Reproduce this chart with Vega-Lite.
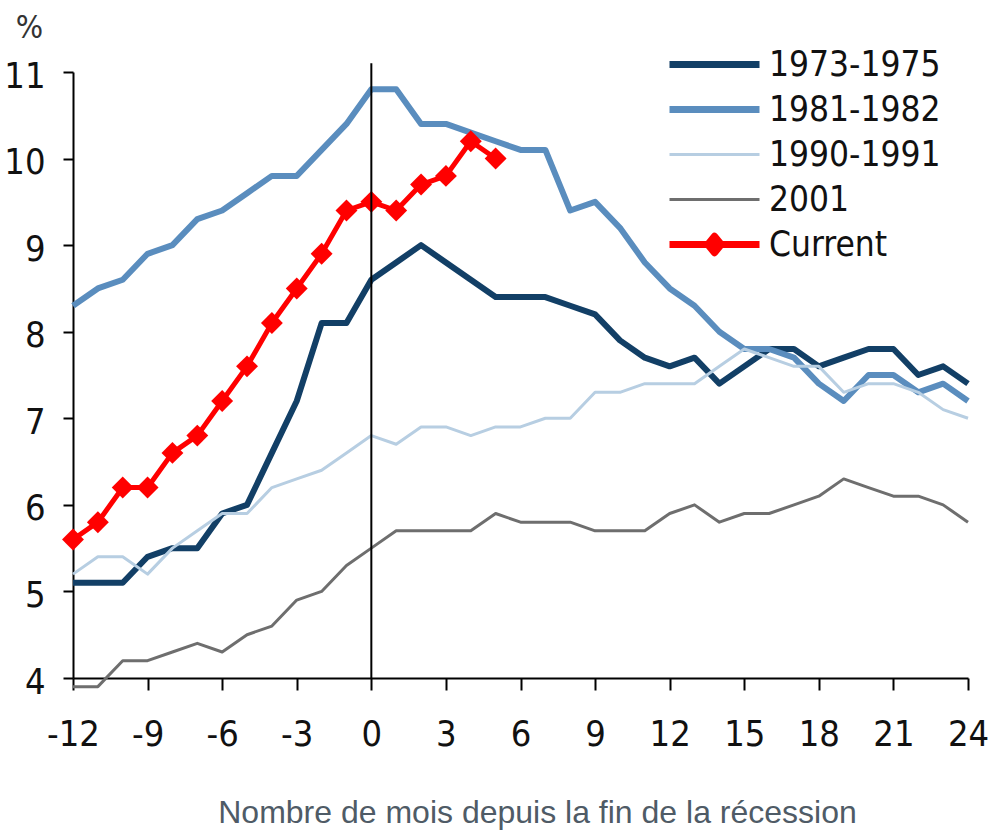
{
  "$schema": "https://vega.github.io/schema/vega-lite/v6.json",
  "width": 895,
  "height": 606,
  "autosize": "none",
  "padding": {"left": 73, "top": 72, "right": 23, "bottom": 152},
  "background": "white",
  "config": {"view": {"stroke": null}, "axis": {"grid": false}},
  "datasets": {
    "u": [
      {"m":-12,"s":"1973-1975","v":5.1},{"m":-11,"s":"1973-1975","v":5.1},{"m":-10,"s":"1973-1975","v":5.1},{"m":-9,"s":"1973-1975","v":5.4},{"m":-8,"s":"1973-1975","v":5.5},{"m":-7,"s":"1973-1975","v":5.5},{"m":-6,"s":"1973-1975","v":5.9},{"m":-5,"s":"1973-1975","v":6.0},{"m":-4,"s":"1973-1975","v":6.6},{"m":-3,"s":"1973-1975","v":7.2},{"m":-2,"s":"1973-1975","v":8.1},{"m":-1,"s":"1973-1975","v":8.1},{"m":0,"s":"1973-1975","v":8.6},{"m":1,"s":"1973-1975","v":8.8},{"m":2,"s":"1973-1975","v":9.0},{"m":3,"s":"1973-1975","v":8.8},{"m":4,"s":"1973-1975","v":8.6},{"m":5,"s":"1973-1975","v":8.4},{"m":6,"s":"1973-1975","v":8.4},{"m":7,"s":"1973-1975","v":8.4},{"m":8,"s":"1973-1975","v":8.3},{"m":9,"s":"1973-1975","v":8.2},{"m":10,"s":"1973-1975","v":7.9},{"m":11,"s":"1973-1975","v":7.7},{"m":12,"s":"1973-1975","v":7.6},{"m":13,"s":"1973-1975","v":7.7},{"m":14,"s":"1973-1975","v":7.4},{"m":15,"s":"1973-1975","v":7.6},{"m":16,"s":"1973-1975","v":7.8},{"m":17,"s":"1973-1975","v":7.8},{"m":18,"s":"1973-1975","v":7.6},{"m":19,"s":"1973-1975","v":7.7},{"m":20,"s":"1973-1975","v":7.8},{"m":21,"s":"1973-1975","v":7.8},{"m":22,"s":"1973-1975","v":7.5},{"m":23,"s":"1973-1975","v":7.6},{"m":24,"s":"1973-1975","v":7.4},
      {"m":-12,"s":"1981-1982","v":8.3},{"m":-11,"s":"1981-1982","v":8.5},{"m":-10,"s":"1981-1982","v":8.6},{"m":-9,"s":"1981-1982","v":8.9},{"m":-8,"s":"1981-1982","v":9.0},{"m":-7,"s":"1981-1982","v":9.3},{"m":-6,"s":"1981-1982","v":9.4},{"m":-5,"s":"1981-1982","v":9.6},{"m":-4,"s":"1981-1982","v":9.8},{"m":-3,"s":"1981-1982","v":9.8},{"m":-2,"s":"1981-1982","v":10.1},{"m":-1,"s":"1981-1982","v":10.4},{"m":0,"s":"1981-1982","v":10.8},{"m":1,"s":"1981-1982","v":10.8},{"m":2,"s":"1981-1982","v":10.4},{"m":3,"s":"1981-1982","v":10.4},{"m":4,"s":"1981-1982","v":10.3},{"m":5,"s":"1981-1982","v":10.2},{"m":6,"s":"1981-1982","v":10.1},{"m":7,"s":"1981-1982","v":10.1},{"m":8,"s":"1981-1982","v":9.4},{"m":9,"s":"1981-1982","v":9.5},{"m":10,"s":"1981-1982","v":9.2},{"m":11,"s":"1981-1982","v":8.8},{"m":12,"s":"1981-1982","v":8.5},{"m":13,"s":"1981-1982","v":8.3},{"m":14,"s":"1981-1982","v":8.0},{"m":15,"s":"1981-1982","v":7.8},{"m":16,"s":"1981-1982","v":7.8},{"m":17,"s":"1981-1982","v":7.7},{"m":18,"s":"1981-1982","v":7.4},{"m":19,"s":"1981-1982","v":7.2},{"m":20,"s":"1981-1982","v":7.5},{"m":21,"s":"1981-1982","v":7.5},{"m":22,"s":"1981-1982","v":7.3},{"m":23,"s":"1981-1982","v":7.4},{"m":24,"s":"1981-1982","v":7.2},
      {"m":-12,"s":"1990-1991","v":5.2},{"m":-11,"s":"1990-1991","v":5.4},{"m":-10,"s":"1990-1991","v":5.4},{"m":-9,"s":"1990-1991","v":5.2},{"m":-8,"s":"1990-1991","v":5.5},{"m":-7,"s":"1990-1991","v":5.7},{"m":-6,"s":"1990-1991","v":5.9},{"m":-5,"s":"1990-1991","v":5.9},{"m":-4,"s":"1990-1991","v":6.2},{"m":-3,"s":"1990-1991","v":6.3},{"m":-2,"s":"1990-1991","v":6.4},{"m":-1,"s":"1990-1991","v":6.6},{"m":0,"s":"1990-1991","v":6.8},{"m":1,"s":"1990-1991","v":6.7},{"m":2,"s":"1990-1991","v":6.9},{"m":3,"s":"1990-1991","v":6.9},{"m":4,"s":"1990-1991","v":6.8},{"m":5,"s":"1990-1991","v":6.9},{"m":6,"s":"1990-1991","v":6.9},{"m":7,"s":"1990-1991","v":7.0},{"m":8,"s":"1990-1991","v":7.0},{"m":9,"s":"1990-1991","v":7.3},{"m":10,"s":"1990-1991","v":7.3},{"m":11,"s":"1990-1991","v":7.4},{"m":12,"s":"1990-1991","v":7.4},{"m":13,"s":"1990-1991","v":7.4},{"m":14,"s":"1990-1991","v":7.6},{"m":15,"s":"1990-1991","v":7.8},{"m":16,"s":"1990-1991","v":7.7},{"m":17,"s":"1990-1991","v":7.6},{"m":18,"s":"1990-1991","v":7.6},{"m":19,"s":"1990-1991","v":7.3},{"m":20,"s":"1990-1991","v":7.4},{"m":21,"s":"1990-1991","v":7.4},{"m":22,"s":"1990-1991","v":7.3},{"m":23,"s":"1990-1991","v":7.1},{"m":24,"s":"1990-1991","v":7.0},
      {"m":-12,"s":"2001","v":3.9},{"m":-11,"s":"2001","v":3.9},{"m":-10,"s":"2001","v":4.2},{"m":-9,"s":"2001","v":4.2},{"m":-8,"s":"2001","v":4.3},{"m":-7,"s":"2001","v":4.4},{"m":-6,"s":"2001","v":4.3},{"m":-5,"s":"2001","v":4.5},{"m":-4,"s":"2001","v":4.6},{"m":-3,"s":"2001","v":4.9},{"m":-2,"s":"2001","v":5.0},{"m":-1,"s":"2001","v":5.3},{"m":0,"s":"2001","v":5.5},{"m":1,"s":"2001","v":5.7},{"m":2,"s":"2001","v":5.7},{"m":3,"s":"2001","v":5.7},{"m":4,"s":"2001","v":5.7},{"m":5,"s":"2001","v":5.9},{"m":6,"s":"2001","v":5.8},{"m":7,"s":"2001","v":5.8},{"m":8,"s":"2001","v":5.8},{"m":9,"s":"2001","v":5.7},{"m":10,"s":"2001","v":5.7},{"m":11,"s":"2001","v":5.7},{"m":12,"s":"2001","v":5.9},{"m":13,"s":"2001","v":6.0},{"m":14,"s":"2001","v":5.8},{"m":15,"s":"2001","v":5.9},{"m":16,"s":"2001","v":5.9},{"m":17,"s":"2001","v":6.0},{"m":18,"s":"2001","v":6.1},{"m":19,"s":"2001","v":6.3},{"m":20,"s":"2001","v":6.2},{"m":21,"s":"2001","v":6.1},{"m":22,"s":"2001","v":6.1},{"m":23,"s":"2001","v":6.0},{"m":24,"s":"2001","v":5.8},
      {"m":-12,"s":"Current","v":5.6},{"m":-11,"s":"Current","v":5.8},{"m":-10,"s":"Current","v":6.2},{"m":-9,"s":"Current","v":6.2},{"m":-8,"s":"Current","v":6.6},{"m":-7,"s":"Current","v":6.8},{"m":-6,"s":"Current","v":7.2},{"m":-5,"s":"Current","v":7.6},{"m":-4,"s":"Current","v":8.1},{"m":-3,"s":"Current","v":8.5},{"m":-2,"s":"Current","v":8.9},{"m":-1,"s":"Current","v":9.4},{"m":0,"s":"Current","v":9.5},{"m":1,"s":"Current","v":9.4},{"m":2,"s":"Current","v":9.7},{"m":3,"s":"Current","v":9.8},{"m":4,"s":"Current","v":10.2},{"m":5,"s":"Current","v":10.0}
    ]
  },
  "layer": [
    {
      "data": {"name": "u"},
      "encoding": {
        "x": {
          "field": "m", "type": "quantitative",
          "scale": {"domain": [-12, 24], "nice": false, "zero": false},
          "axis": {
            "values": [-12, -9, -6, -3, 0, 3, 6, 9, 12, 15, 18, 21, 24],
            "format": "d",
            "labelExpr": "replace(datum.label, '\u2212', '-')",
            "labelFlush": false, "labelOverlap": false,
            "labelFont": "DejaVu Sans Condensed, sans-serif",
            "labelFontSize": 36, "labelColor": "#111111", "labelPadding": 27,
            "tickSize": 12, "tickWidth": 2, "tickColor": "#000000",
            "domainColor": "#000000", "domainWidth": 2,
            "title": "Nombre de mois depuis la fin de la récession",
            "titleFont": "Liberation Sans, Arial, sans-serif", "titleFontSize": 32, "titleFontWeight": "normal",
            "titleColor": "#4f5b66", "titleX": 464, "titleY": 144, "titleAlign": "center", "titleBaseline": "alphabetic"
          }
        },
        "y": {
          "field": "v", "type": "quantitative",
          "scale": {"domain": [4, 11], "nice": false, "zero": false},
          "axis": {
            "values": [4, 5, 6, 7, 8, 9, 10, 11],
            "format": "d",
            "labelFont": "DejaVu Sans Condensed, sans-serif",
            "labelFontSize": 36, "labelColor": "#111111", "labelPadding": 18, "labelOffset": 4,
            "tickSize": 10, "tickWidth": 2, "tickColor": "#000000",
            "domainColor": "#000000", "domainWidth": 2,
            "title": "%", "titleAngle": 0, "titleX": -44, "titleY": -35, "titleAlign": "center", "titleBaseline": "alphabetic",
            "titleFont": "DejaVu Sans Condensed, sans-serif", "titleFontSize": 32, "titleFontWeight": "normal", "titleColor": "#333333"
          }
        },
        "color": {
          "field": "s", "type": "nominal",
          "scale": {
            "domain": ["1973-1975", "1981-1982", "1990-1991", "2001", "Current"],
            "range": ["#123f66", "#5a8dbe", "#b7cee2", "#6e6e6e", "#ff0000"]
          },
          "legend": {
            "title": null, "orient": "none", "legendX": 624, "legendY": -25,
            "symbolType": "M-3,0L3,0", "symbolSize": 900, "symbolStrokeWidth": 6,
            "labelFont": "DejaVu Sans Condensed, sans-serif", "labelLimit": 400,
            "labelFontSize": 35, "labelColor": "#111111", "labelOffset": 37, "rowPadding": 9,
            "encode": {
              "symbols": {
                "update": {
                  "shape": {"signal": "datum.value === 'Current' ? 'M-3,0L3,0M0,-0.55L0.45,0L0,0.55L-0.45,0Z' : 'M-3,0L3,0'"},
                  "strokeWidth": {"signal": "(datum.value === '1990-1991' || datum.value === '2001') ? 3 : 7"},
                  "fill": {"signal": "datum.value === 'Current' ? '#ff0000' : 'transparent'"},
                  "stroke": {"scale": "color", "field": "value"},
                  "strokeJoin": {"value": "round"}
                }
              }
            }
          }
        }
      },
      "layer": [
        {
          "transform": [{"filter": "datum.s === '1973-1975' || datum.s === '1981-1982'"}],
          "mark": {"type": "line", "strokeWidth": 6, "strokeJoin": "round"}
        },
        {
          "transform": [{"filter": "datum.s === '1990-1991' || datum.s === '2001'"}],
          "mark": {"type": "line", "strokeWidth": 3, "strokeJoin": "round"}
        },
        {
          "transform": [{"filter": "datum.s === 'Current'"}],
          "mark": {"type": "line", "strokeWidth": 5, "strokeJoin": "round"}
        },
        {
          "transform": [{"filter": "datum.s === 'Current'"}],
          "mark": {"type": "point", "shape": "diamond", "filled": true, "size": 480, "opacity": 1}
        }
      ]
    },
    {
      "data": {"values": [{"m": 0}]},
      "mark": {"type": "rule", "color": "#000000", "strokeWidth": 2},
      "encoding": {
        "x": {"field": "m", "type": "quantitative"},
        "y": {"datum": 4},
        "y2": {"datum": 11.1}
      }
    }
  ]
}
